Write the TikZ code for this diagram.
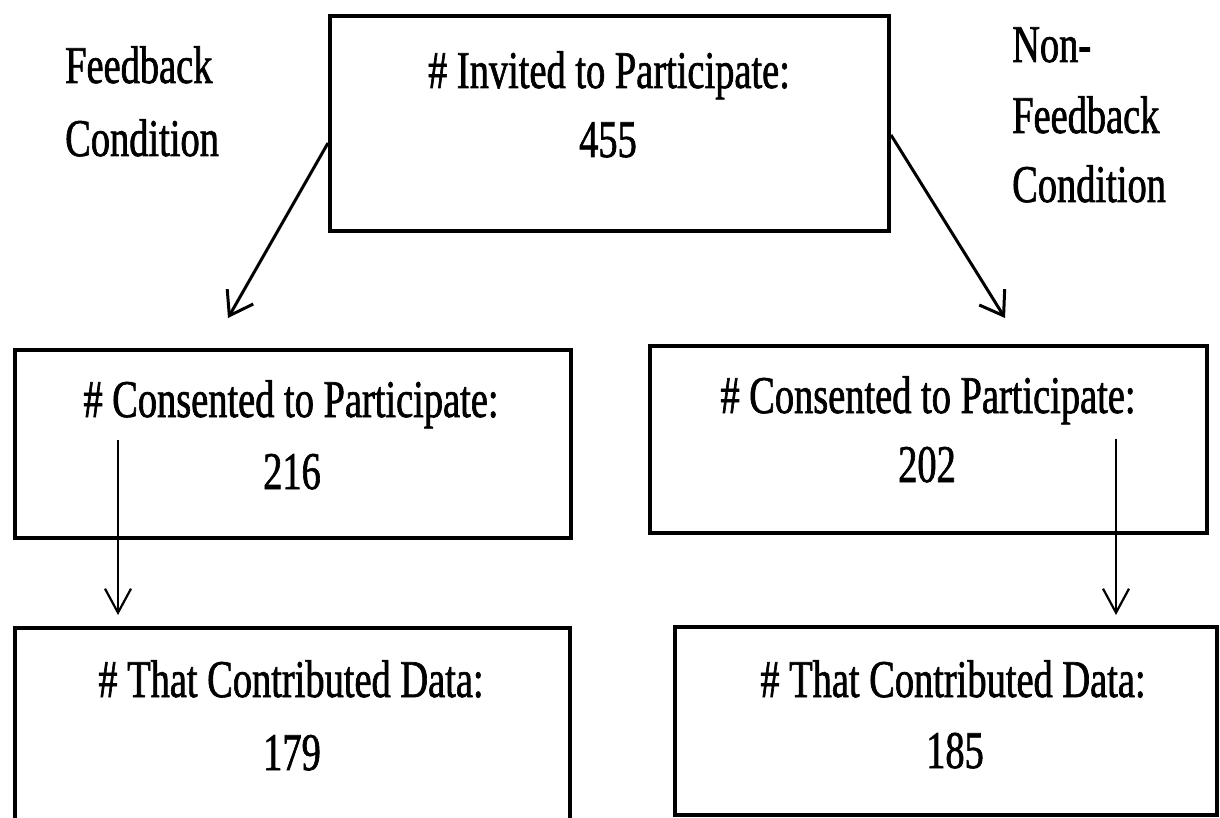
\documentclass[tikz,border=0pt]{standalone}
\usepackage{fontspec}
\setmainfont{Liberation Serif}[FakeStretch=0.725,BoldFont={Liberation Serif},BoldFeatures={FakeBold=1.2}]
\usetikzlibrary{arrows.meta}
\begin{document}
\begin{tikzpicture}[x=1pt,y=-1pt,
  box/.style={draw,line width=4pt,inner sep=0pt},
  txt/.style={inner sep=0pt,anchor=base,font=\fontsize{53}{60}\bfseries},
  ltxt/.style={txt,anchor=base west},
  arr/.style={line width=3pt,-{Straight Barb[length=22pt,width=30pt,line width=3pt]}},
  varr/.style={line width=2pt,-{Straight Barb[length=24pt,width=26pt,line width=2.2pt]}}]
\useasboundingbox (0,0) rectangle (1220,818);
% boxes
\node[box,minimum width=559pt,minimum height=215pt] (top) at (609.5,123.5) {};
\node[box,minimum width=556pt,minimum height=188pt] (lmid) at (293,444) {};
\node[box,minimum width=557pt,minimum height=187pt] (rmid) at (928.5,439.5) {};
\node[box,minimum width=555pt,minimum height=194pt] (lbot) at (292.5,725) {};
\node[box,minimum width=542pt,minimum height=188pt] (rbot) at (946,721) {};
% texts
\node[txt] (t1) at (609,88) {\# Invited to Participate:};
\node[txt] (t2) at (608,157) {455};
\node[txt] (l1) at (291,417) {\# Consented to Participate:};
\node[txt] (l2) at (292,489) {216};
\node[txt] (r1) at (928,413) {\# Consented to Participate:};
\node[txt] (r2) at (927,482) {202};
\node[txt] (b1) at (291,697) {\# That Contributed Data:};
\node[txt] (b2) at (292,770) {179};
\node[txt] (c1) at (953,697) {\# That Contributed Data:};
\node[txt] (c2) at (955,768) {185};
\node[ltxt] (fb1) at (65,83) {Feedback};
\node[ltxt] (fb2) at (65,156) {Condition};
\node[ltxt] (nf1) at (1012,62) {Non-};
\node[ltxt] (nf2) at (1012,133) {Feedback};
\node[ltxt] (nf3) at (1012,202) {Condition};
% arrows
\coordinate (ltip) at (228,318);
\coordinate (rtip) at (1005,318);
\coordinate (lvt) at (118,615);
\coordinate (rvt) at (1116,615);
\draw[arr] ([yshift=-19.5pt]top.west) -- (ltip);
\draw[arr] ([yshift=-11.5pt]top.east) -- (rtip);
\draw[varr] ([xshift=-175pt,yshift=4pt]lmid.center) -- (lvt);
\draw[varr] ([xshift=187.5pt,yshift=0.5pt]rmid.center) -- (rvt);
\end{tikzpicture}
\end{document}
